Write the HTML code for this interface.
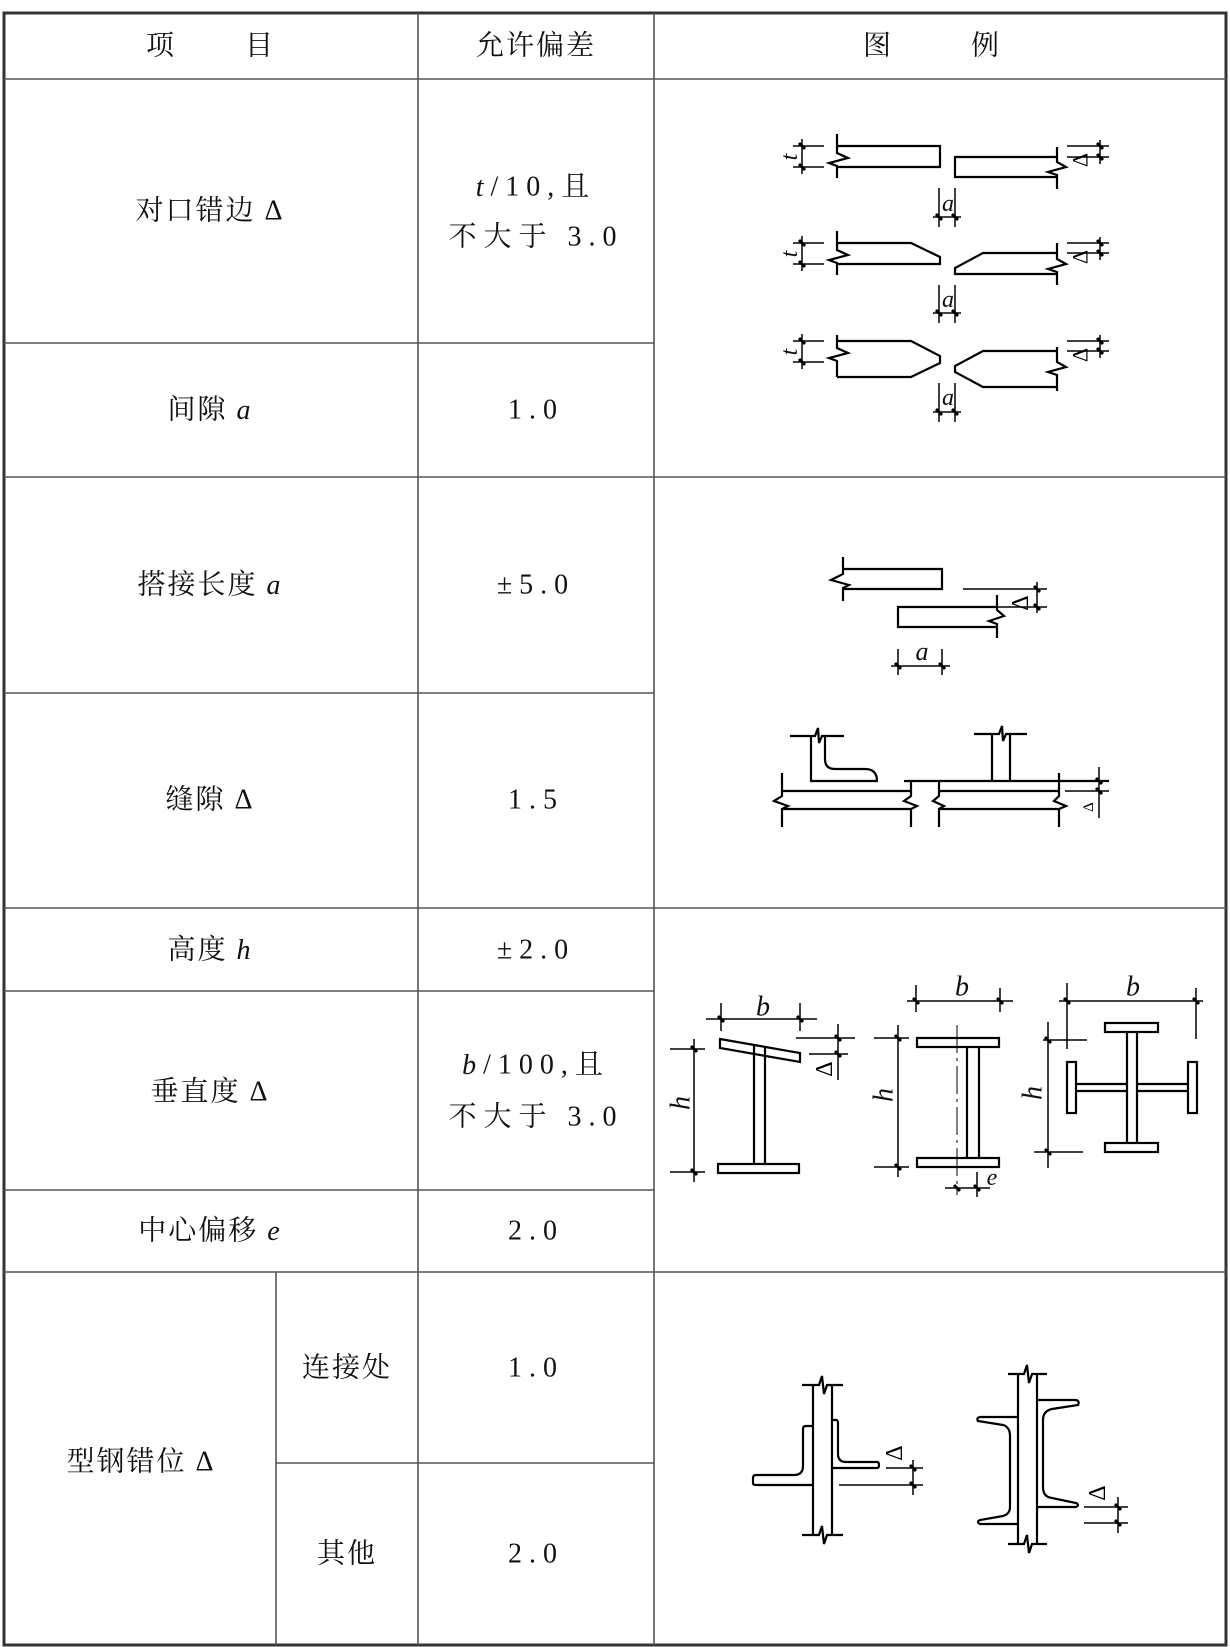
<!DOCTYPE html>
<html><head><meta charset="utf-8"><style>
html,body{margin:0;padding:0;background:#fff;}
svg{display:block;}
.cn{font-family:"Liberation Serif","Noto Serif CJK SC",serif;font-size:28px;fill:#111;letter-spacing:2px;}
.num{font-family:"Liberation Serif","Noto Serif CJK SC",serif;font-size:28px;fill:#111;letter-spacing:7px;}
.it{font-family:"Liberation Serif",serif;font-style:italic;fill:#111;}
.g{fill:none;stroke:#555;stroke-width:1.6;}
.d{fill:none;stroke:#000;stroke-width:2.2;stroke-linejoin:miter;}
.t{fill:none;stroke:#000;stroke-width:1.5;}
.k{stroke:#000;stroke-width:3;}
</style></head><body>
<svg width="1230" height="1647" viewBox="0 0 1230 1647" xmlns="http://www.w3.org/2000/svg">
<rect x="4" y="13" width="1222" height="1632" fill="none" stroke="#333" stroke-width="3"/>
<g class="g">
<line x1="4" y1="79" x2="1226" y2="79"/>
<line x1="418" y1="13" x2="418" y2="1645"/>
<line x1="654" y1="13" x2="654" y2="1645"/>
<line x1="4" y1="343" x2="654" y2="343"/>
<line x1="4" y1="477" x2="1226" y2="477"/>
<line x1="4" y1="693" x2="654" y2="693"/>
<line x1="4" y1="908" x2="1226" y2="908"/>
<line x1="4" y1="991" x2="654" y2="991"/>
<line x1="4" y1="1190" x2="654" y2="1190"/>
<line x1="4" y1="1272" x2="1226" y2="1272"/>
<line x1="276" y1="1272" x2="276" y2="1645"/>
<line x1="276" y1="1463" x2="654" y2="1463"/>
</g>
<g class="cn" text-anchor="middle" dominant-baseline="central">
<text x="161" y="46">项</text><text x="260" y="46">目</text>
<text x="536" y="46">允许偏差</text>
<text x="878" y="46">图</text><text x="986" y="46">例</text>
<text x="210" y="211">对口错边 Δ</text>
<text x="210" y="410">间隙 <tspan class="it">a</tspan></text>
<text x="210" y="585">搭接长度 <tspan class="it">a</tspan></text>
<text x="210" y="800">缝隙 Δ</text>
<text x="210" y="950">高度 <tspan class="it">h</tspan></text>
<text x="210" y="1092">垂直度 Δ</text>
<text x="210" y="1231">中心偏移 <tspan class="it">e</tspan></text>
<text x="141" y="1462">型钢错位 Δ</text>
<text x="347" y="1368">连接处</text>
<text x="347" y="1554">其他</text>
</g>
<g class="num" text-anchor="middle" dominant-baseline="central">
<text x="536" y="187"><tspan class="it">t</tspan>/10,且</text>
<text x="536" y="237">不大于 3.0</text>
<text x="536" y="410">1.0</text>
<text x="536" y="585">±5.0</text>
<text x="536" y="800">1.5</text>
<text x="536" y="950">±2.0</text>
<text x="536" y="1065"><tspan class="it">b</tspan>/100,且</text>
<text x="536" y="1117">不大于 3.0</text>
<text x="536" y="1231">2.0</text>
<text x="536" y="1368">1.0</text>
<text x="536" y="1554">2.0</text>
</g>

<g class="d">
<path d="M837 134 V153 L848 158 L829 163 L837 166 V178"/>
<path d="M837 146 H940 V167 H837"/>
<path d="M1057 147 V162 L1066 167 L1048 172 L1057 175 V189"/>
<path d="M1057 157 H955 V177 H1057"/>
<path d="M837 231 V250 L848 255 L829 260 L837 263 V275"/>
<path d="M837 243 H911 L940 257 V264 H837"/>
<path d="M1057 243 V259 L1066 264 L1048 269 L1057 272 V285"/>
<path d="M1057 253 H983 L955 268 V274 H1057"/>
<path d="M837 335 V348 L848 353 L829 358 L837 361 V377"/>
<path d="M837 341 H911 L940 356 V363 L911 377 H837"/>
<path d="M1057 347 V362 L1066 367 L1048 372 L1057 375 V391"/>
<path d="M1057 351 H983 L955 366 V372 L983 387 H1057"/>
</g>
<g class="t">
<path d="M793 146 H824 M793 167 H824 M802 139 V174"/>
<path d="M793 243 H824 M793 264 H824 M802 236 V271"/>
<path d="M793 341 H824 M793 362 H824 M802 334 V369"/>
<path d="M1067 146 H1109 M1067 157 H1109 M1100 140 V164"/>
<path d="M1067 243 H1109 M1067 253 H1109 M1100 237 V260"/>
<path d="M1067 341 H1109 M1067 351 H1109 M1100 335 V358"/>
<path d="M939 188 V227 M955 188 V227 M933 217 H961"/>
<path d="M939 285 V323 M955 285 V323 M933 313 H961"/>
<path d="M939 383 V422 M955 383 V422 M933 412 H961"/>
</g>
<g class="k">
<path d="M799 143 L805 149 M799 164 L805 170 M1097 143 L1103 149 M1097 154 L1103 160 M936 214 L942 220 M952 214 L958 220"/>
<path d="M799 240 L805 246 M799 261 L805 267 M1097 240 L1103 246 M1097 250 L1103 256 M936 310 L942 316 M952 310 L958 316"/>
<path d="M799 338 L805 344 M799 359 L805 365 M1097 338 L1103 344 M1097 348 L1103 354 M936 409 L942 415 M952 409 L958 415"/>
</g>
<g class="it" font-size="24" text-anchor="middle">
<text transform="translate(790,157) rotate(-90)" dominant-baseline="central">t</text>
<text transform="translate(790,254) rotate(-90)" dominant-baseline="central">t</text>
<text transform="translate(790,352) rotate(-90)" dominant-baseline="central">t</text>
<text x="948" y="211">a</text><text x="948" y="307">a</text><text x="948" y="405">a</text>
</g>
<g font-family="Liberation Serif,serif" font-size="22" text-anchor="middle" fill="#000">
<text transform="translate(1080,160) rotate(-90)" dominant-baseline="central">Δ</text>
<text transform="translate(1080,257) rotate(-90)" dominant-baseline="central">Δ</text>
<text transform="translate(1080,355) rotate(-90)" dominant-baseline="central">Δ</text>
</g>

<g class="d">
<path d="M843 557 V574 L831 580 L849 585 L843 588 V601"/>
<path d="M843 569 H942 V589 H843"/>
<path d="M997 595 V610 L1004 616 L989 621 L997 624 V638"/>
<path d="M997 607 H898 V627 H997"/>
</g>
<g class="t">
<path d="M963 589 H1047 M997 607 H1047 M1037 582 V613"/>
<path d="M898 649 V675 M942 649 V675 M891 666 H950"/>
</g>
<g class="k"><path d="M1034 586 L1040 592 M1034 604 L1040 610 M895 663 L901 669 M939 663 L945 669"/></g>
<text class="it" x="922" y="660" font-size="26" text-anchor="middle">a</text>
<text transform="translate(1021,603) rotate(-90)" font-family="Liberation Serif,serif" font-size="24" text-anchor="middle" dominant-baseline="central">Δ</text>

<g class="d">
<path d="M790 736 H815 L818 728 L819 743 L822 736 H844"/>
<path d="M811 736 V781 H877 Q877 769 865 769 H835 Q825 769 825 759 V736"/>
<path d="M782 773 V796 L774 801 L788 806 L782 809 V827"/>
<path d="M782 791 H911 M782 809 H911"/>
<path d="M911 782 V796 L904 801 L917 806 L911 809 V827"/>
<path d="M904 781 H1109"/>
<path d="M939 780 V796 L933 801 L944 806 L939 809 V827"/>
<path d="M939 791 H1059 M939 809 H1059"/>
<path d="M1059 773 V796 L1054 801 L1066 806 L1059 809 V827"/>
<path d="M974 734 H999 L1002 726 L1003 741 L1006 734 H1027"/>
<path d="M992 734 V781 M1010 734 V781"/>
</g>
<g class="t"><path d="M1065 791 H1109 M1099 767 V818"/></g>
<g class="k"><path d="M1096 778 L1102 784 M1096 788 L1102 794"/></g>
<text transform="translate(1089,807) rotate(-90)" font-family="Liberation Serif,serif" font-size="15" text-anchor="middle" dominant-baseline="central">Δ</text>

<g class="d">
<path d="M720 1039 L800 1053 V1062 L720 1048 Z"/>
<path d="M754 1045 V1164 M765 1047 V1164"/>
<rect x="718" y="1164" width="81" height="9"/>
<rect x="917" y="1038" width="82" height="9"/>
<rect x="917" y="1158" width="82" height="9"/>
<path d="M967 1047 V1158 M979 1047 V1158"/>
<rect x="1105" y="1023" width="53" height="9"/>
<rect x="1105" y="1143" width="53" height="9"/>
<path d="M1127 1032 V1143 M1137 1032 V1143"/>
<rect x="1067" y="1062" width="9" height="51"/>
<rect x="1188" y="1062" width="9" height="51"/>
<path d="M1076 1084 H1127 M1076 1091 H1127 M1137 1084 H1188 M1137 1091 H1188"/>
</g>
<g class="t">
<path d="M706 1019 H817 M721 1003 V1031 M800 1003 V1031"/>
<path d="M694 1039 V1182 M670 1049 H705 M670 1172 H705"/>
<path d="M796 1038 H855 M809 1054 H848 M838 1024 V1080"/>
<path d="M907 1001 H1013 M916 985 V1012 M1000 988 V1012"/>
<path d="M898 1025 V1177 M874 1038 H909 M874 1167 H909"/>
<path d="M957 1025 V1195" stroke-dasharray="28 5 3 5" stroke-width="1"/>
<path d="M977 1172 V1197 M945 1188 H990"/>
<path d="M1059 1001 H1203 M1067 983 V1049 M1196 988 V1039"/>
<path d="M1048 1022 V1168 M1043 1040 H1087 M1034 1152 H1083"/>
</g>
<g class="k">
<path d="M718 1016 L724 1022 M797 1016 L803 1022 M691 1046 L697 1052 M691 1169 L697 1175 M835 1035 L841 1041 M835 1051 L841 1057"/>
<path d="M913 998 L919 1004 M997 998 L1003 1004 M895 1035 L901 1041 M895 1164 L901 1170 M954 1185 L960 1191 M974 1185 L980 1191"/>
<path d="M1064 998 L1070 1004 M1193 998 L1199 1004 M1045 1037 L1051 1043 M1045 1149 L1051 1155"/>
</g>
<g class="it" font-size="28" text-anchor="middle" dominant-baseline="central">
<text x="763" y="1007">b</text><text x="962" y="987">b</text><text x="1133" y="987">b</text>
<text transform="translate(681,1103) rotate(-90)">h</text>
<text transform="translate(884,1095) rotate(-90)">h</text>
<text transform="translate(1033,1093) rotate(-90)">h</text>
<text x="992" y="1178" font-size="24">e</text>
</g>
<text transform="translate(825,1069) rotate(-90)" font-family="Liberation Serif,serif" font-size="24" text-anchor="middle" dominant-baseline="central">Δ</text>

<g class="d">
<path d="M802 1385 H819 L822 1376 L824 1394 L827 1385 H843"/>
<path d="M802 1535 H819 L822 1526 L824 1544 L827 1535 H843"/>
<path d="M813 1385 V1535 M832 1385 V1535"/>
<path d="M832 1420 H836 Q838 1420 838 1423 V1454 Q838 1462 846 1462 H877 Q879 1462 879 1465 Q879 1468 877 1468 H832"/>
<path d="M813 1426 H806 Q803 1426 803 1429 V1466 Q803 1475 794 1475 H756 Q753 1475 753 1478 V1483 Q753 1485 756 1485 H813"/>
<path d="M1008 1374 H1024 L1027 1365 L1029 1383 L1032 1374 H1047"/>
<path d="M1008 1544 H1024 L1027 1535 L1029 1553 L1032 1544 H1047"/>
<path d="M1018 1374 V1544 M1037 1374 V1544"/>
<path d="M1037 1400 H1076 Q1080 1401 1078 1405 L1052 1409 Q1043 1411 1043 1420 V1487 Q1043 1497 1052 1498 L1076 1503 Q1080 1505 1076 1507 H1037"/>
<path d="M1018 1417 H980 Q976 1418 978 1421 L1003 1425 Q1010 1427 1010 1436 V1507 Q1010 1514 1003 1516 L980 1520 Q976 1522 980 1524 H1018"/>
</g>
<g class="t">
<path d="M886 1468 H923 M839 1485 H923 M913 1460 V1495"/>
<path d="M1084 1507 H1128 M1084 1523 H1128 M1118 1497 V1533"/>
</g>
<g class="k"><path d="M910 1465 L916 1471 M910 1482 L916 1488 M1115 1504 L1121 1510 M1115 1520 L1121 1526"/></g>
<g font-family="Liberation Serif,serif" font-size="24" text-anchor="middle" dominant-baseline="central">
<text transform="translate(895,1453) rotate(-90)">Δ</text>
<text transform="translate(1098,1493) rotate(-90)">Δ</text>
</g>
</svg>
</body></html>
